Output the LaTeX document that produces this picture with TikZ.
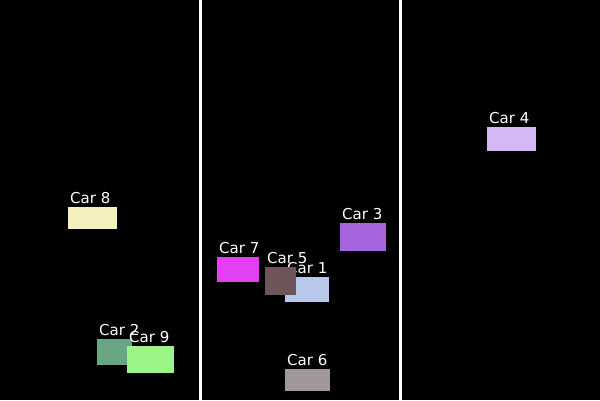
\documentclass[tikz,border=0pt]{standalone}
\usepackage{fontspec}
\setmainfont{DejaVu Sans}
\usetikzlibrary{positioning}

\definecolor{carone}{RGB}{185,200,235}
\definecolor{cartwo}{RGB}{105,165,130}
\definecolor{carthree}{RGB}{165,100,220}
\definecolor{carfour}{RGB}{210,185,245}
\definecolor{carfive}{RGB}{110,85,90}
\definecolor{carsix}{RGB}{160,150,155}
\definecolor{carseven}{RGB}{225,65,240}
\definecolor{careight}{RGB}{245,240,190}
\definecolor{carnine}{RGB}{155,245,135}

\begin{document}
\begin{tikzpicture}[
    x=1pt, y=-1pt, % one unit is one pixel, y runs downwards
    carbox/.style={
        anchor=north west, % place boxes by their top left corner
        inner sep=0pt,
        outer sep=0pt
    },
    carlabel/.style={
        anchor=base west, % text sits just above its box
        inner sep=0pt,
        text=white,
        font=\fontsize{15}{15}\selectfont
    },
    laneline/.style={draw=white, line width=3pt}
]

% road background and lane lines
\fill[black] (0,0) rectangle (600,400);
\useasboundingbox (0,0) rectangle (600,400);
\coordinate (laneAtop) at (200.5,0);
\coordinate (laneAbot) at (200.5,400);
\coordinate (laneBtop) at (400.5,0);
\coordinate (laneBbot) at (400.5,400);
\draw[laneline] (laneAtop) -- (laneAbot);
\draw[laneline] (laneBtop) -- (laneBbot);

% cars, each box with its label above
\node[carbox, fill=carone, minimum width=44, minimum height=25] (car1) at (285,277) {};
\node[carlabel] (car1label) at ([xshift=2pt, yshift=4pt]car1.north west) {Car 1};

\node[carbox, fill=cartwo, minimum width=35, minimum height=26] (car2) at (97,339) {};
\node[carlabel] (car2label) at ([xshift=2pt, yshift=4pt]car2.north west) {Car 2};

\node[carbox, fill=carthree, minimum width=46, minimum height=28] (car3) at (340,223) {};
\node[carlabel] (car3label) at ([xshift=2pt, yshift=4pt]car3.north west) {Car 3};

\node[carbox, fill=carfour, minimum width=49, minimum height=24] (car4) at (487,127) {};
\node[carlabel] (car4label) at ([xshift=2pt, yshift=4pt]car4.north west) {Car 4};

\node[carbox, fill=carfive, minimum width=31, minimum height=28] (car5) at (265,267) {};
\node[carlabel] (car5label) at ([xshift=2pt, yshift=4pt]car5.north west) {Car 5};

\node[carbox, fill=carsix, minimum width=45, minimum height=22] (car6) at (285,369) {};
\node[carlabel] (car6label) at ([xshift=2pt, yshift=4pt]car6.north west) {Car 6};

\node[carbox, fill=carseven, minimum width=42, minimum height=25] (car7) at (217,257) {};
\node[carlabel] (car7label) at ([xshift=2pt, yshift=4pt]car7.north west) {Car 7};

\node[carbox, fill=careight, minimum width=49, minimum height=22] (car8) at (68,207) {};
\node[carlabel] (car8label) at ([xshift=2pt, yshift=4pt]car8.north west) {Car 8};

\node[carbox, fill=carnine, minimum width=47, minimum height=27] (car9) at (127,346) {};
\node[carlabel] (car9label) at ([xshift=2pt, yshift=4pt]car9.north west) {Car 9};

\end{tikzpicture}
\end{document}
